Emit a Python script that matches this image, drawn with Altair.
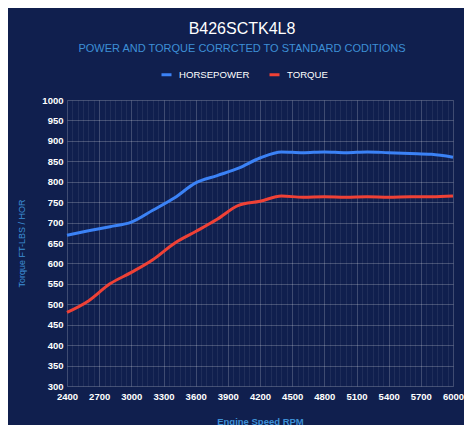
import altair as alt
import pandas as pd

rpm = [2400, 2600, 2800, 3000, 3200, 3400, 3600, 3800, 4000, 4200,
       4400, 4600, 4800, 5000, 5200, 5400, 5600, 5800, 6000]
horsepower = [669, 680, 690, 701, 730, 760, 797, 815, 833, 858,
              873, 871, 873, 871, 873, 871, 869, 867, 860]
torque = [480, 508, 550, 578, 609, 649, 678, 708, 742, 752,
          765, 762, 763, 762, 763, 762, 763, 763, 765]

series_names = ["HORSEPOWER", "TORQUE"]
series_colors = ["#3b82f6", "#ef4136"]

x_grid_values = list(range(2400, 6001, 50))
y_values = list(range(300, 1001, 50))

df = pd.concat([
    pd.DataFrame({"rpm": rpm, "value": horsepower, "series": series_names[0]}),
    pd.DataFrame({"rpm": rpm, "value": torque, "series": series_names[1]}),
])

FONT = "Liberation Sans"
BG = "#101f4e"
AXIS_BLUE = "#3d8fd6"

chart = alt.Chart(df).mark_line(
    strokeWidth=3, interpolate="monotone"
).encode(
    x=alt.X(
        "rpm:Q",
        scale=alt.Scale(domain=[2400, 6000], nice=False, zero=False),
        axis=alt.Axis(
            values=x_grid_values,
            labelExpr="datum.value % 300 === 0 ? datum.label : ''",
            format="d",
            title="Engine Speed RPM",
            titleColor=AXIS_BLUE,
            titleFont=FONT,
            titleFontSize=9.5,
            titleFontWeight="bold",
            titleY=35,
            titleBaseline="middle",
            labelColor="white",
            labelFont=FONT,
            labelFontSize=9.5,
            labelFontWeight="bold",
            labelPadding=5,
            labelOverlap=False,
            labelFlush=False,
            ticks=False,
            domain=False,
            grid=True,
            gridColor={
                "condition": {"test": "datum.value % 300 === 0",
                              "value": "rgba(255,255,255,0.2)"},
                "value": "rgba(255,255,255,0.07)",
            },
        ),
    ),
    y=alt.Y(
        "value:Q",
        scale=alt.Scale(domain=[300, 1000], nice=False, zero=False),
        axis=alt.Axis(
            values=y_values,
            format="d",
            title="Torque FT-LBS / HOR",
            titleColor=AXIS_BLUE,
            titleFont=FONT,
            titleFontSize=9,
            titleFontWeight="normal",
            titleX=-46,
            titleY=143,
            titleBaseline="middle",
            titleAlign="center",
            titleAngle=270,
            labelColor="white",
            labelFont=FONT,
            labelFontSize=9.5,
            labelFontWeight="bold",
            labelPadding=4,
            ticks=False,
            domain=False,
            grid=True,
            gridColor="rgba(255,255,255,0.22)",
        ),
    ),
    color=alt.Color(
        "series:N",
        scale=alt.Scale(domain=series_names, range=series_colors),
        legend=alt.Legend(
            title=None,
            orient="none",
            direction="horizontal",
            legendX=93,
            legendY=-32,
            symbolType="stroke",
            symbolStrokeWidth=3,
            symbolSize=100,
            labelColor="white",
            labelFont=FONT,
            labelFontSize=9.6,
            labelOffset=6,
            columnPadding=13,
        ),
    ),
).properties(
    width=386,
    height=286,
    background=BG,
    padding={"left": 59, "top": 92, "right": 11, "bottom": 39},
    autosize=alt.AutoSizeParams(type="none"),
    title=alt.TitleParams(
        text="B426SCTK4L8",
        subtitle="POWER AND TORQUE CORRCTED TO STANDARD CODITIONS",
        anchor="middle",
        font=FONT,
        fontSize=16,
        fontWeight="normal",
        color="white",
        subtitleFont=FONT,
        subtitleFontSize=11,
        subtitleColor=AXIS_BLUE,
        subtitlePadding=6,
        offset=14,
        dx=-18,
    ),
).configure_view(stroke=None)

chart.save("out.html", embed_options={"renderer": "svg", "actions": False})
